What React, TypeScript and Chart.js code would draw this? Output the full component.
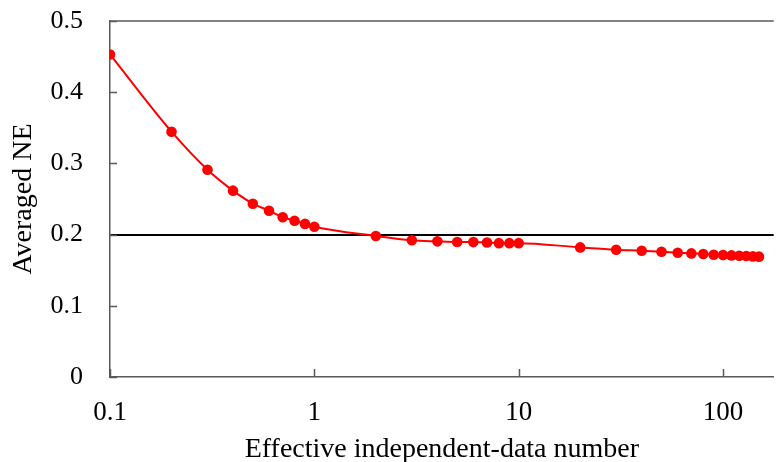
import React, { useEffect, useRef } from "react";
import { Chart, registerables } from "chart.js";

Chart.register(...registerables);

// Effective independent-data number (log axis) and averaged NE
const effectiveNumber = [
  0.1, 0.2, 0.3, 0.4, 0.5, 0.6, 0.7, 0.8, 0.9, 1,
  2, 3, 4, 5, 6, 7, 8, 9, 10,
  20, 30, 40, 50, 60, 70, 80, 90, 100,
  110, 120, 130, 140, 150,
];
const averagedNE = [
  0.453, 0.3445, 0.291, 0.2617, 0.2434, 0.2336, 0.2243, 0.2195, 0.215, 0.211,
  0.198, 0.192, 0.1905, 0.1896, 0.1895, 0.189, 0.188, 0.188, 0.188,
  0.182, 0.1788, 0.1774, 0.176, 0.1746, 0.1736, 0.1728, 0.1718, 0.1713,
  0.1708, 0.1702, 0.1699, 0.1694, 0.169,
];
const xTicks = [0.1, 1, 10, 100];
const yTicks = [0, 0.1, 0.2, 0.3, 0.4, 0.5];
const referenceLevel = 0.2;

const FONT = "'Liberation Serif', 'Times New Roman', serif";
const AXIS_COLOR = "#595959";

// Inward tick marks and the top frame line
const frameTicks = {
  id: "frameTicks",
  afterDraw(chart: any) {
    const { ctx, chartArea, scales } = chart;
    ctx.save();
    ctx.strokeStyle = AXIS_COLOR;
    ctx.lineWidth = 1.5;
    ctx.beginPath();
    ctx.moveTo(chartArea.left, chartArea.top);
    ctx.lineTo(chartArea.right, chartArea.top);
    for (const v of yTicks) {
      const y = Math.round(scales.y.getPixelForValue(v)) + 0.5;
      ctx.moveTo(chartArea.left, y);
      ctx.lineTo(chartArea.left + 7, y);
    }
    for (const v of xTicks) {
      const x = Math.round(scales.x.getPixelForValue(v)) + 0.5;
      ctx.moveTo(x, chartArea.bottom);
      ctx.lineTo(x, chartArea.bottom - 8);
    }
    ctx.stroke();
    ctx.restore();
  },
};

export default function App() {
  const ref = useRef<HTMLCanvasElement | null>(null);

  useEffect(() => {
    if (!ref.current) return;
    const chart = new Chart(ref.current, {
      type: "line",
      data: {
        datasets: [
          {
            data: effectiveNumber.map((x, i) => ({ x, y: averagedNE[i] })),
            borderColor: "#ff0000",
            backgroundColor: "#ff0000",
            borderWidth: 2,
            pointRadius: 5.3,
            pointBorderWidth: 0,
            cubicInterpolationMode: "monotone",
            fill: false,
          },
        ],
      },
      options: {
        animation: false,
        responsive: true,
        maintainAspectRatio: false,
        layout: { padding: { top: 21, right: 1, left: 0, bottom: 0 } },
        plugins: { legend: { display: false }, tooltip: { enabled: false } },
        scales: {
          x: {
            type: "logarithmic",
            min: 0.1,
            max: 177,
            afterBuildTicks: (s: any) => {
              s.ticks = xTicks.map((value) => ({ value }));
            },
            afterFit: (s: any) => {
              s.height = 85;
              s.paddingLeft = 0;
              s.paddingRight = 0;
            },
            grid: { display: false, drawTicks: false },
            border: { display: true, color: AXIS_COLOR, width: 1.5 },
            ticks: {
              autoSkip: false,
              maxRotation: 0,
              padding: 20,
              color: "#000",
              font: { family: FONT, size: 27 },
              callback: (v: any) => String(v),
            },
            title: {
              display: true,
              text: "Effective independent-data number",
              color: "#000",
              font: { family: FONT, size: 28 },
              padding: { top: 0, bottom: -4 },
            },
          },
          y: {
            min: 0,
            max: 0.5,
            afterBuildTicks: (s: any) => {
              s.ticks = yTicks.map((value) => ({ value }));
            },
            afterFit: (s: any) => {
              s.width = 110;
              s.paddingTop = 0;
              s.paddingBottom = 0;
            },
            grid: {
              drawTicks: false,
              lineWidth: 2,
              color: (c: any) =>
                c.tick && Math.abs(c.tick.value - referenceLevel) < 1e-9
                  ? "#000"
                  : "rgba(0,0,0,0)",
            },
            border: { display: true, color: AXIS_COLOR, width: 1.5 },
            ticks: {
              padding: 27,
              color: "#000",
              font: { family: FONT, size: 26 },
              callback: (v: any) => String(Math.round(Number(v) * 10) / 10),
            },
            title: {
              display: true,
              text: "Averaged NE",
              color: "#000",
              font: { family: FONT, size: 28 },
              padding: { top: 7, bottom: 0 },
            },
          },
        },
      },
      plugins: [frameTicks],
    });
    return () => chart.destroy();
  }, []);

  return (
    <div style={{ position: "fixed", left: 0, top: 0, width: 779, height: 462, background: "#fff" }}>
      <canvas ref={ref} />
    </div>
  );
}
